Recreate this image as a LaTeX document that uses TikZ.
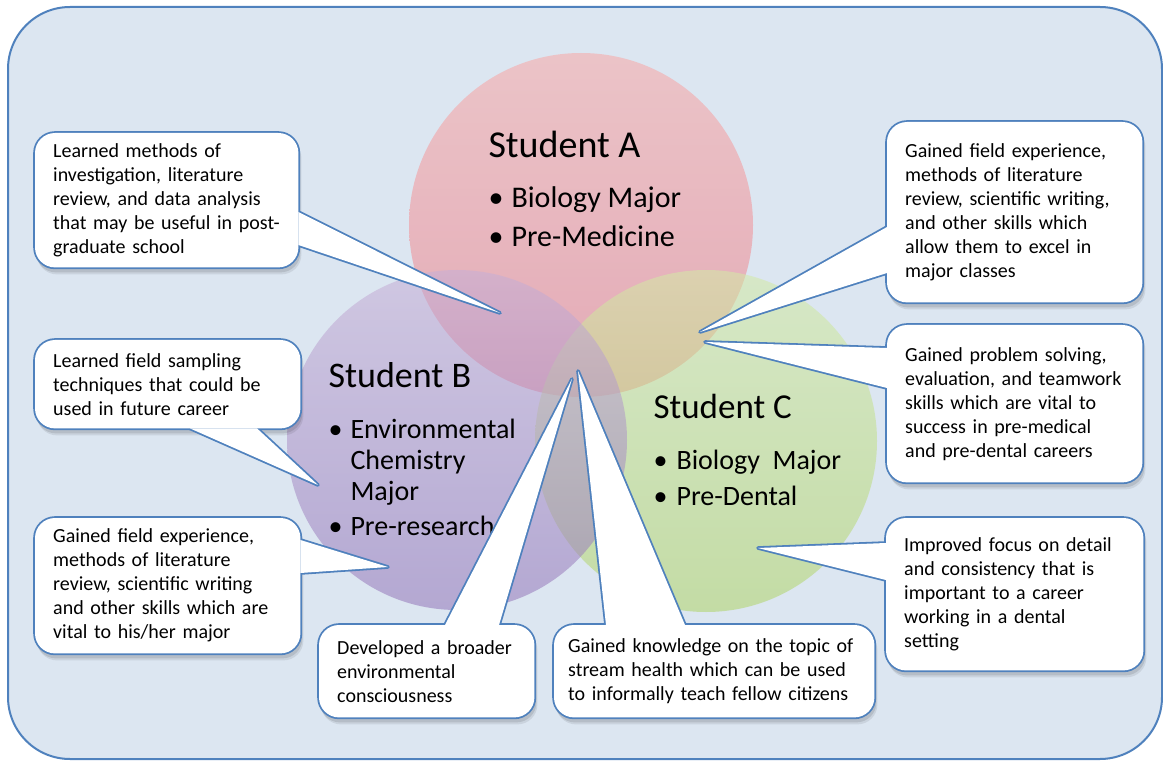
\documentclass[tikz,border=0pt]{standalone}
\usepackage{fontspec}
\setmainfont{Carlito}
\usetikzlibrary{calc}

\pgfdeclarelayer{back}
\pgfdeclarelayer{rim}
\pgfdeclarelayer{face}
\pgfsetlayers{back,rim,face,main}

\definecolor{paneblue}{RGB}{220,230,241}
\definecolor{lineblue}{RGB}{79,129,189}
\definecolor{redtop}{RGB}{249,168,166}
\definecolor{redbot}{RGB}{235,121,134}
\definecolor{purptop}{RGB}{198,175,214}
\definecolor{purpbot}{RGB}{147,117,185}
\definecolor{greentop}{RGB}{211,234,166}
\definecolor{greenbot}{RGB}{176,212,103}

\tikzset{
  bubble/.style={anchor=north west, text width=#1, align=left,
    inner xsep=18pt, inner ysep=0pt, font=\fontsize{20}{24}\selectfont},
  headline/.style={anchor=base west, font=\fontsize{#1}{#1}\selectfont},
  item/.style={anchor=base west, font=\fontsize{#1}{#1}\selectfont},
  disc/.style={fill opacity=0.55},
  rimline/.style={draw=lineblue, line width=3.6pt, line join=round},
  facefill/.style={fill=white},
}

% bullet sign with a hanging indent
\newcommand{\dotitem}[1]{\makebox[#1][l]{•}}

% boxes and tails of all callouts, drawn once as outline and once as face
\newcommand{\bubbleset}[1]{%
  \foreach \i in {1,...,8}
    \path[#1, rounded corners=20pt] (c\i.north west) rectangle (c\i.south east);
  \path[#1]
    ($(c1.north east)+(0,79)$) -- (p1) -- ($(c1.north east)+(0,112)$) -- cycle
    ($(c2.south west)+(155,0)$) -- (p2) -- ($(c2.south west)+(222,0)$) -- cycle
    ($(c3.north east)+(0,22)$) -- (p3) -- ($(c3.north east)+(0,55)$) -- cycle
    ($(c4.north west)+(126,0)$) -- (p4) -- ($(c4.north west)+(180,0)$) -- cycle
    ($(c5.north west)+(52,0)$) -- (p5) -- ($(c5.north west)+(131,0)$) -- cycle
    ($(c6.north west)+(0,105)$) -- (p6) -- ($(c6.north west)+(0,151)$) -- cycle
    ($(c7.north west)+(0,23)$) -- (p7) -- ($(c7.north west)+(0,63)$) -- cycle
    ($(c8.north west)+(0,25)$) -- (p8) -- ($(c8.north west)+(0,62)$) -- cycle;
}

\begin{document}
\begin{tikzpicture}[x=1pt,y=-1pt]
\useasboundingbox (0,0) rectangle (1163,762);

% tips of the tails
\coordinate (p1) at (500,313);
\coordinate (p2) at (318,485);
\coordinate (p3) at (388,567);
\coordinate (p4) at (572,379);
\coordinate (p5) at (578,371);
\coordinate (p6) at (700,332);
\coordinate (p7) at (705,342);
\coordinate (p8) at (758,548);

\begin{pgfonlayer}{back}
\draw[lineblue, fill=paneblue, line width=2pt, rounded corners=62pt] (8,7) rectangle (1162,759);

% the three students
\coordinate (ca) at (581,225);
\coordinate (cb) at (457,440);
\coordinate (cc) at (706,441);
\shade[disc, top color=redtop, bottom color=redbot] (ca) circle[radius=172];
\shade[disc, top color=greentop, bottom color=greenbot] (cc) circle[radius=171];
\shade[disc, top color=purptop, bottom color=purpbot] (cb) circle[radius=170];

\node (ta) at (485,158)[headline=38]{Student A};
\node (ta1) at (485,208)[item=30]{\dotitem{23pt}Biology Major};
\node (ta2) at (485,247)[item=30]{\dotitem{23pt}Pre-Medicine};

\node (tb) at (325,388)[headline=36]{Student B};
\node (tb1) at (325,438)[item=28]{\dotitem{22pt}Environmental};
\node (tb2) at (347,469)[item=28]{Chemistry};
\node (tb3) at (347,500)[item=28]{Major};
\node (tb4) at (325,535)[item=28]{\dotitem{22pt}Pre-research};

\node (tc) at (650,418)[headline=35]{Student C};
\node (tc1) at (650,469)[item=28]{\dotitem{23pt}Biology\hspace{0.45em}Major};
\node (tc2) at (650,505)[item=28]{\dotitem{23pt}Pre-Dental};
\end{pgfonlayer}

% callout texts
\node (c1) at (35,133)[bubble=227pt, minimum height=134pt]{Learned methods of\\investigation, literature\\review, and data analysis\\that may be useful in post-\\graduate school};
\node (c2) at (35,340)[bubble=229pt, minimum height=88pt]{Learned field sampling\\techniques that could be\\used in future career};
\node (c3) at (35,518)[bubble=229pt, minimum height=135pt]{Gained field experience,\\methods of literature\\review, scientific writing\\and other skills which are\\vital to his/her major};
\node (c4) at (319,625)[bubble=179pt, minimum height=92pt]{Developed a broader\\environmental\\consciousness};
\node (c5) at (554,625)[bubble=292pt, inner xsep=14pt, minimum height=92pt]{Gained knowledge on the topic of\\stream health which can be used\\to informally teach fellow citizens};
\node (c6) at (887,122)[bubble=219pt, minimum height=180pt]{Gained field experience,\\methods of literature\\review, scientific writing,\\and other skills which\\allow them to excel in\\major classes};
\node (c7) at (887,325)[bubble=219pt, minimum height=157pt]{Gained problem solving,\\evaluation, and teamwork\\skills which are vital to\\success in pre-medical\\and pre-dental careers};
\node (c8) at (886,518)[bubble=221pt, minimum height=152pt]{Improved focus on detail\\and consistency that is\\important to a career\\working in a dental\\setting};

\begin{pgfonlayer}{rim}
\foreach \i in {1,...,8}{
  \fill[black, opacity=0.10, rounded corners=20pt] ($(c\i.north west)+(1,3)$) rectangle ($(c\i.south east)+(2,5)$);
  \fill[black, opacity=0.08, rounded corners=20pt] ($(c\i.north west)+(2,5)$) rectangle ($(c\i.south east)+(3,7)$);
}
\bubbleset{rimline}
\end{pgfonlayer}
\begin{pgfonlayer}{face}
\bubbleset{facefill}
\end{pgfonlayer}
\end{tikzpicture}
\end{document}
